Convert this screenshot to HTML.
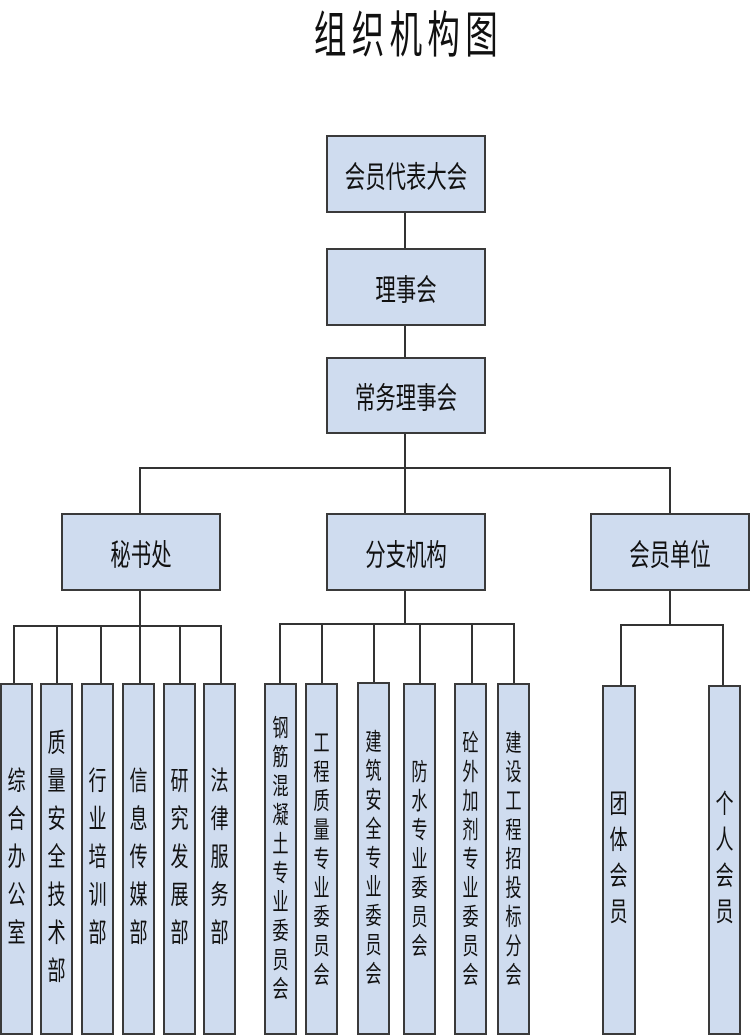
<!DOCTYPE html>
<html><head><meta charset="utf-8"><style>
body{margin:0;width:750px;height:1031px;background:#fff;position:relative;overflow:hidden;font-family:"Liberation Sans","Noto Sans CJK SC",sans-serif;color:#111}
.b{position:absolute;background:#cfdcef;border:2px solid #3a3a3a;box-sizing:border-box;display:flex;align-items:center;justify-content:center}
.h span{display:inline-block;font-size:24px;transform:scale(0.85,1.25)}
.v{flex-direction:column}
.v span{display:block;font-size:19px;transform:scale(0.95,1.4);text-align:center}
.l{position:absolute;background:#333}
.t{position:absolute;left:0;width:816px;top:4px;text-align:center;font-size:37px;letter-spacing:6px}
.t span{display:inline-block;transform:scale(0.88,1.35)}
</style></head><body>
<div class="t"><span>组织机构图</span></div>

<div class="b h" style="left:326px;top:135px;width:160px;height:78px"><span>会员代表大会</span></div>
<div class="b h" style="left:326px;top:248px;width:160px;height:78px"><span>理事会</span></div>
<div class="b h" style="left:326px;top:357px;width:160px;height:77px"><span>常务理事会</span></div>
<div class="l" style="left:404px;top:213px;width:2px;height:35px"></div>
<div class="l" style="left:404px;top:326px;width:2px;height:31px"></div>
<div class="l" style="left:404px;top:434px;width:2px;height:80px"></div>
<div class="l" style="left:139px;top:467px;width:532px;height:2px"></div>
<div class="l" style="left:139px;top:467px;width:2px;height:47px"></div>
<div class="l" style="left:669px;top:467px;width:2px;height:47px"></div>

<div class="b h" style="left:61px;top:513px;width:160px;height:78px"><span>秘书处</span></div>
<div class="b h" style="left:326px;top:513px;width:160px;height:78px"><span>分支机构</span></div>
<div class="b h" style="left:590px;top:513px;width:160px;height:78px"><span>会员单位</span></div>

<div class="l" style="left:139px;top:591px;width:2px;height:35px"></div>
<div class="l" style="left:13px;top:625px;width:209px;height:2px"></div>
<div class="l" style="left:13px;top:625px;width:2px;height:59px"></div>
<div class="l" style="left:56px;top:625px;width:2px;height:59px"></div>
<div class="l" style="left:100px;top:625px;width:2px;height:59px"></div>
<div class="l" style="left:139px;top:625px;width:2px;height:59px"></div>
<div class="l" style="left:179px;top:625px;width:2px;height:59px"></div>
<div class="l" style="left:220px;top:625px;width:2px;height:59px"></div>

<div class="b v" style="left:0px;top:683px;width:33px;height:352px;line-height:38px"><span>综</span><span>合</span><span>办</span><span>公</span><span>室</span></div>
<div class="b v" style="left:40px;top:683px;width:33px;height:352px;line-height:38px"><span>质</span><span>量</span><span>安</span><span>全</span><span>技</span><span>术</span><span>部</span></div>
<div class="b v" style="left:81px;top:683px;width:33px;height:352px;line-height:38px"><span>行</span><span>业</span><span>培</span><span>训</span><span>部</span></div>
<div class="b v" style="left:122px;top:683px;width:33px;height:352px;line-height:38px"><span>信</span><span>息</span><span>传</span><span>媒</span><span>部</span></div>
<div class="b v" style="left:163px;top:683px;width:33px;height:352px;line-height:38px"><span>研</span><span>究</span><span>发</span><span>展</span><span>部</span></div>
<div class="b v" style="left:203px;top:683px;width:33px;height:352px;line-height:38px"><span>法</span><span>律</span><span>服</span><span>务</span><span>部</span></div>

<div class="l" style="left:404px;top:591px;width:2px;height:34px"></div>
<div class="l" style="left:279px;top:623px;width:236px;height:2px"></div>
<div class="l" style="left:279px;top:623px;width:2px;height:61px"></div>
<div class="l" style="left:321px;top:623px;width:2px;height:61px"></div>
<div class="l" style="left:373px;top:623px;width:2px;height:61px"></div>
<div class="l" style="left:419px;top:623px;width:2px;height:61px"></div>
<div class="l" style="left:471px;top:623px;width:2px;height:61px"></div>
<div class="l" style="left:513px;top:623px;width:2px;height:61px"></div>

<div class="b v" style="left:264px;top:683px;width:33px;height:352px;line-height:29px"><span style="font-size:17px">钢</span><span style="font-size:17px">筋</span><span style="font-size:17px">混</span><span style="font-size:17px">凝</span><span style="font-size:17px">土</span><span style="font-size:17px">专</span><span style="font-size:17px">业</span><span style="font-size:17px">委</span><span style="font-size:17px">员</span><span style="font-size:17px">会</span></div>
<div class="b v" style="left:305px;top:683px;width:33px;height:352px;line-height:29px"><span style="font-size:17px">工</span><span style="font-size:17px">程</span><span style="font-size:17px">质</span><span style="font-size:17px">量</span><span style="font-size:17px">专</span><span style="font-size:17px">业</span><span style="font-size:17px">委</span><span style="font-size:17px">员</span><span style="font-size:17px">会</span></div>
<div class="b v" style="left:357px;top:682px;width:33px;height:353px;line-height:29px"><span style="font-size:17px">建</span><span style="font-size:17px">筑</span><span style="font-size:17px">安</span><span style="font-size:17px">全</span><span style="font-size:17px">专</span><span style="font-size:17px">业</span><span style="font-size:17px">委</span><span style="font-size:17px">员</span><span style="font-size:17px">会</span></div>
<div class="b v" style="left:403px;top:683px;width:33px;height:352px;line-height:29px"><span style="font-size:17px">防</span><span style="font-size:17px">水</span><span style="font-size:17px">专</span><span style="font-size:17px">业</span><span style="font-size:17px">委</span><span style="font-size:17px">员</span><span style="font-size:17px">会</span></div>
<div class="b v" style="left:454px;top:683px;width:33px;height:352px;line-height:29px"><span style="font-size:17px">砼</span><span style="font-size:17px">外</span><span style="font-size:17px">加</span><span style="font-size:17px">剂</span><span style="font-size:17px">专</span><span style="font-size:17px">业</span><span style="font-size:17px">委</span><span style="font-size:17px">员</span><span style="font-size:17px">会</span></div>
<div class="b v" style="left:497px;top:683px;width:33px;height:352px;line-height:29px"><span style="font-size:17px">建</span><span style="font-size:17px">设</span><span style="font-size:17px">工</span><span style="font-size:17px">程</span><span style="font-size:17px">招</span><span style="font-size:17px">投</span><span style="font-size:17px">标</span><span style="font-size:17px">分</span><span style="font-size:17px">会</span></div>

<div class="l" style="left:669px;top:591px;width:2px;height:35px"></div>
<div class="l" style="left:620px;top:624px;width:104px;height:2px"></div>
<div class="l" style="left:620px;top:624px;width:2px;height:62px"></div>
<div class="l" style="left:722px;top:624px;width:2px;height:62px"></div>
<div class="b v" style="left:602px;top:685px;width:34px;height:350px;line-height:36px"><span>团</span><span>体</span><span>会</span><span>员</span></div>
<div class="b v" style="left:708px;top:685px;width:33px;height:350px;line-height:36px"><span>个</span><span>人</span><span>会</span><span>员</span></div>
</body></html>
